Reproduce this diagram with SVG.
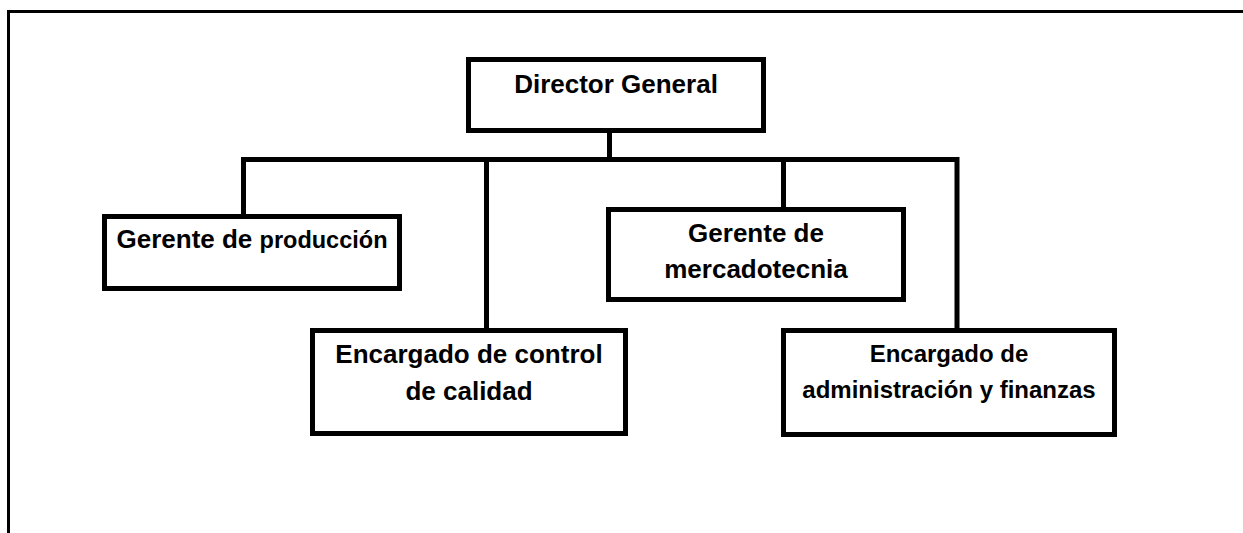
<svg xmlns="http://www.w3.org/2000/svg" width="1243" height="533" viewBox="0 0 1243 533">
<style>
.box{fill:#fff;stroke:#000;stroke-width:5}
.con{fill:none;stroke:#000;stroke-width:5;stroke-linejoin:miter;stroke-linecap:butt}
.t{font-family:"Liberation Sans",Arial,sans-serif;font-weight:bold;fill:#000;text-anchor:middle}
.t26{font-size:26px}
.t24{font-size:24px}
</style>
<rect x="0" y="0" width="1243" height="533" fill="#fff"/>
<path d="M8.5 533 V11.5 H1243" fill="none" stroke="#000" stroke-width="3"/>
<g id="connectors">
<path class="con" d="M609.5 133 V159.5"/>
<path class="con" d="M243.5 219 V159.5 H957 V333"/>
<path class="con" d="M486.5 159.5 V335"/>
<path class="con" d="M783.5 159.5 V219"/>
</g>
<g id="director">
<rect class="box" x="468.5" y="59.5" width="295" height="71"/>
<text class="t t26" x="616" y="93">Director General</text>
</g>
<g id="produccion">
<rect class="box" x="104.5" y="216.5" width="295" height="72"/>
<text class="t t26" x="252" y="248">Gerente de <tspan font-size="23.5px">producción</tspan></text>
</g>
<g id="mercadotecnia">
<rect class="box" x="608.5" y="209.5" width="295" height="90"/>
<text class="t t26" x="756" y="242">Gerente de</text>
<text class="t t26" x="756" y="278">mercadotecnia</text>
</g>
<g id="calidad">
<rect class="box" x="312.5" y="330.5" width="313" height="103"/>
<text class="t t26" x="469" y="363">Encargado de control</text>
<text class="t t26" x="469" y="400">de calidad</text>
</g>
<g id="finanzas">
<rect class="box" x="783.5" y="330.5" width="331" height="104"/>
<text class="t t24" x="949" y="362">Encargado de</text>
<text class="t t24" x="949" y="398">administración y finanzas</text>
</g>
</svg>
